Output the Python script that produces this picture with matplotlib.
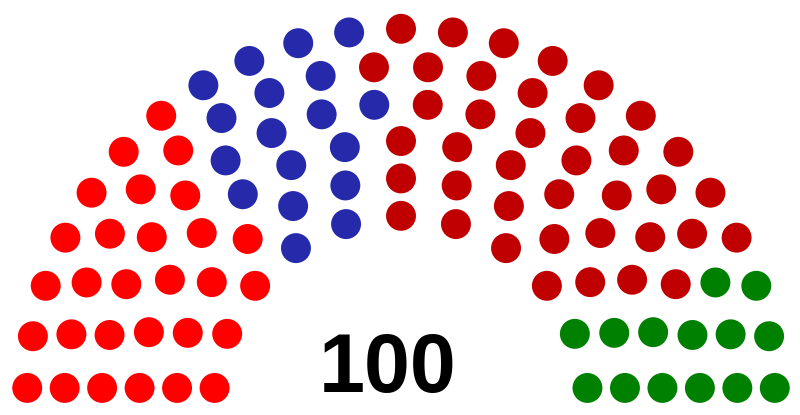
import math
import matplotlib
matplotlib.use("Agg")
import matplotlib.pyplot as plt
from matplotlib.patches import Circle

# parties, left to right
party_names = ["Party A", "Party B", "Party C", "Party D"]
party_seats = [29, 18, 39, 14]
party_colors = ["#FF0000", "#2529AA", "#C00000", "#008000"]

total = sum(party_seats)
rows = 6
radius = 0.4 / rows

# seats per row (parliament diagram layout)
totspots = 0
for i in range(1, rows + 1):
    totspots += int(math.pi / (2 * math.asin(2.0 / (3.0 * rows + 4.0 * i - 2.0))))

poslist = []
for i in range(1, rows + 1):
    J = int(float(total) / totspots * math.pi / (2 * math.asin(2.0 / (3.0 * rows + 4.0 * i - 2.0))))
    if i == rows:
        J = total - len(poslist)
    R = (3.0 * rows + 4.0 * i - 2.0) / (4.0 * rows)
    for j in range(J):
        angle = float(j) * (math.pi - 2.0 * math.sin(radius / R)) / (J - 1.0) + math.sin(radius / R)
        poslist.append([angle, R * math.cos(angle) + 1.75, R * math.sin(angle)])
poslist.sort(reverse=True)

fig = plt.figure(figsize=(8, 4.15), dpi=100)
ax = fig.add_axes([0, 0, 1, 1])
ax.set_xlim(1.4, 357.7)
ax.set_ylim(185.4, 0.5)
ax.set_aspect('equal')
ax.axis('off')

k = 0
for n, c in zip(party_seats, party_colors):
    for s in range(n):
        a, x, y = poslist[k]
        ax.add_patch(Circle((x * 100 + 5, 180 - y * 100), radius * 100, color=c, lw=0))
        k += 1

ax.text(174.0, 175.1, str(total), ha='center', va='baseline', fontsize=59.5,
        fontweight='bold', family='Liberation Sans')

fig.savefig('out.png')
